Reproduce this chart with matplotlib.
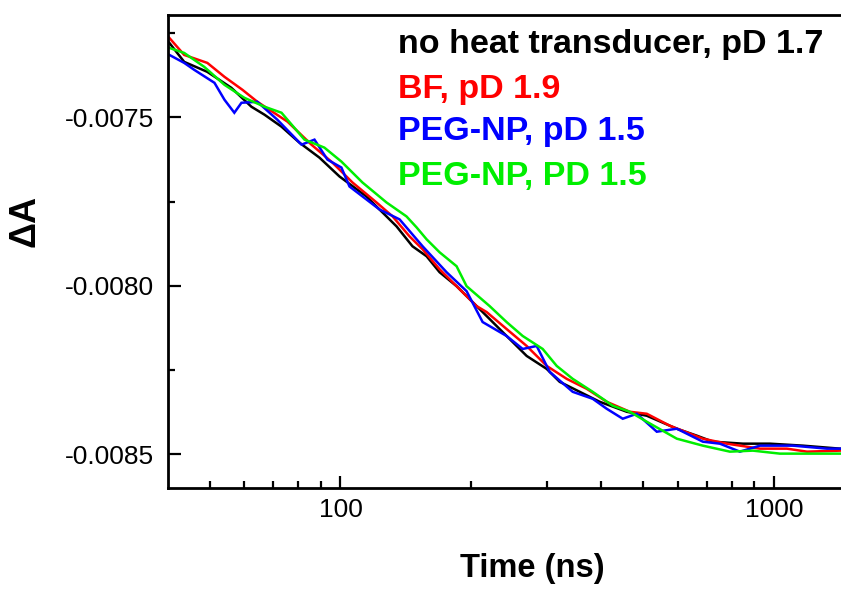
import matplotlib
matplotlib.use("Agg")
import matplotlib.pyplot as plt
from matplotlib.ticker import FixedLocator, FixedFormatter, NullFormatter

plt.rcParams['font.family'] = ['Liberation Sans', 'DejaVu Sans']
plt.rcParams['axes.unicode_minus'] = False

# ---- data (time in ns, ΔA) ----
t_black = [40.3, 43.6, 49.3, 56.0, 62.3, 66.8, 73.1, 80.4, 89.4, 99.5, 114.8, 123.0, 134.7, 146.6,
           158.0, 169.3, 185.3, 201.8, 217.4, 241.7, 268.9, 299.1, 320.5, 356.5, 396.4, 457.7,
           509.0, 597.0, 664.1, 722.9, 848.1, 979.0, 1166.8, 1420.6]
a_black = [-0.0072790, -0.0073352, -0.0073648, -0.0074121, -0.0074683, -0.0074920, -0.0075275,
           -0.0075749, -0.0076192, -0.0076754, -0.0077346, -0.0077731, -0.0078234, -0.0078825,
           -0.0079121, -0.0079595, -0.0080009, -0.0080482, -0.0080896, -0.0081488, -0.0082080,
           -0.0082465, -0.0082849, -0.0083145, -0.0083441, -0.0083737, -0.0083855, -0.0084240,
           -0.0084447, -0.0084625, -0.0084684, -0.0084684, -0.0084743, -0.0084832]

t_red = [40.3, 43.6, 49.3, 54.0, 59.4, 64.3, 75.5, 85.7, 95.8, 106.6, 121.1, 131.9, 144.3, 154.7,
         169.3, 188.3, 206.1, 217.4, 241.7, 268.9, 299.1, 332.6, 370.0, 411.4, 465.0, 509.0,
         575.2, 685.5, 779.0, 928.6, 1071.5, 1191.8, 1420.6]
a_red = [-0.0072642, -0.0073145, -0.0073382, -0.0073796, -0.0074180, -0.0074536, -0.0075127,
         -0.0075808, -0.0076340, -0.0076932, -0.0077524, -0.0077938, -0.0078530, -0.0078914,
         -0.0079506, -0.0080098, -0.0080601, -0.0080778, -0.0081281, -0.0081784, -0.0082376,
         -0.0082760, -0.0083056, -0.0083441, -0.0083737, -0.0083796, -0.0084151, -0.0084536,
         -0.0084684, -0.0084832, -0.0084832, -0.0084921, -0.0084891]

t_blue = [40.3, 43.6, 46.0, 51.2, 54.0, 56.9, 59.1, 64.3, 71.5, 81.3, 87.1, 93.3, 100.5, 104.9,
          123.0, 136.9, 154.7, 175.7, 195.4, 212.8, 241.7, 263.3, 283.6, 303.9, 343.4, 381.9,
          411.4, 448.0, 482.7, 536.8, 597.0, 685.5, 750.3, 834.8, 928.6, 1106.3, 1326.0, 1420.6]
a_blue = [-0.0073145, -0.0073382, -0.0073589, -0.0073973, -0.0074476, -0.0074861, -0.0074565,
          -0.0074536, -0.0075068, -0.0075808, -0.0075660, -0.0076252, -0.0076488, -0.0077050,
          -0.0077731, -0.0078027, -0.0078825, -0.0079595, -0.0080157, -0.0081074, -0.0081488,
          -0.0081873, -0.0081784, -0.0082553, -0.0083145, -0.0083352, -0.0083648, -0.0083944,
          -0.0083796, -0.0084329, -0.0084240, -0.0084625, -0.0084684, -0.0084921, -0.0084743,
          -0.0084743, -0.0084832, -0.0084832]

t_green = [40.3, 43.6, 48.5, 54.0, 60.0, 66.8, 73.1, 82.6, 91.8, 100.5, 112.4, 127.7, 142.0, 149.8,
           158.0, 169.3, 185.3, 195.4, 220.9, 241.7, 263.3, 292.8, 315.4, 343.4, 381.9, 424.8,
           465.0, 509.0, 597.0, 685.5, 791.5, 894.5, 1032.5, 1191.8, 1420.6]
a_green = [-0.0072938, -0.0073086, -0.0073500, -0.0074033, -0.0074417, -0.0074683, -0.0074861,
           -0.0075660, -0.0075896, -0.0076311, -0.0076932, -0.0077524, -0.0077938, -0.0078263,
           -0.0078618, -0.0079003, -0.0079417, -0.0080009, -0.0080601, -0.0081074, -0.0081488,
           -0.0081873, -0.0082376, -0.0082760, -0.0083145, -0.0083559, -0.0083737, -0.0084033,
           -0.0084536, -0.0084743, -0.0084921, -0.0084891, -0.0084980, -0.0084980, -0.0084980]

labels = ["no heat transducer, pD 1.7", "BF, pD 1.9", "PEG-NP, pD 1.5", "PEG-NP, PD 1.5"]
colors = ["#000000", "#ff0000", "#0000ff", "#00ee00"]

x_major = [100, 1000]
x_major_labels = ["100", "1000"]
x_minor = [50, 60, 70, 80, 90, 200, 300, 400, 500, 600, 700, 800, 900]
y_major = [-0.0085, -0.0080, -0.0075]
y_major_labels = ["-0.0085", "-0.0080", "-0.0075"]
y_minor = [-0.00825, -0.00775, -0.00725]

# ---- figure ----
fig = plt.figure(figsize=(8.41, 5.89), dpi=100)
W, H = 841, 589
left_px, right_px, top_px, bottom_px = 168, 845, 15, 488
ax = fig.add_axes([left_px / W, 1 - bottom_px / H, (right_px - left_px) / W, (bottom_px - top_px) / H])

series = [(t_black, a_black), (t_red, a_red), (t_blue, a_blue), (t_green, a_green)]
for (t, a), c in zip(series, colors):
    ax.plot(t, a, color=c, lw=1.8, solid_joinstyle='miter')

ax.set_xscale('log')
ax.set_xlim(40, 1459)
ax.set_ylim(-0.0086, -0.007196)

ax.xaxis.set_major_locator(FixedLocator(x_major))
ax.xaxis.set_major_formatter(FixedFormatter(x_major_labels))
ax.xaxis.set_minor_locator(FixedLocator(x_minor))
ax.xaxis.set_minor_formatter(NullFormatter())
ax.yaxis.set_major_locator(FixedLocator(y_major))
ax.yaxis.set_major_formatter(FixedFormatter(y_major_labels))
ax.yaxis.set_minor_locator(FixedLocator(y_minor))

for s in ax.spines.values():
    s.set_linewidth(2.0)
ax.spines['right'].set_visible(False)

ax.tick_params(which='both', direction='in', width=1.6, top=False, right=False)
ax.tick_params(which='major', length=9)
ax.tick_params(which='minor', length=5)
ax.tick_params(axis='x', which='major', labelsize=19, pad=7)
ax.tick_params(axis='y', which='major', labelsize=19, pad=10)

ax.set_xlabel("Time (ns)", fontsize=23.5, fontweight='bold')
ax.xaxis.set_label_coords((532.5 - left_px) / (right_px - left_px), (bottom_px - 553) / (bottom_px - top_px))
ax.set_ylabel("ΔA", fontsize=26, fontweight='bold')
ax.yaxis.set_label_coords((43 - left_px) / (right_px - left_px), (bottom_px - 221) / (bottom_px - top_px))

baselines = [53, 98, 140, 185]
for lab, c, b in zip(labels, colors, baselines):
    ax.text((398 - left_px) / (right_px - left_px), (bottom_px - b) / (bottom_px - top_px), lab,
            transform=ax.transAxes, color=c, fontsize=24.5, fontweight='bold',
            ha='left', va='baseline')

fig.savefig("out.png", dpi=100)
